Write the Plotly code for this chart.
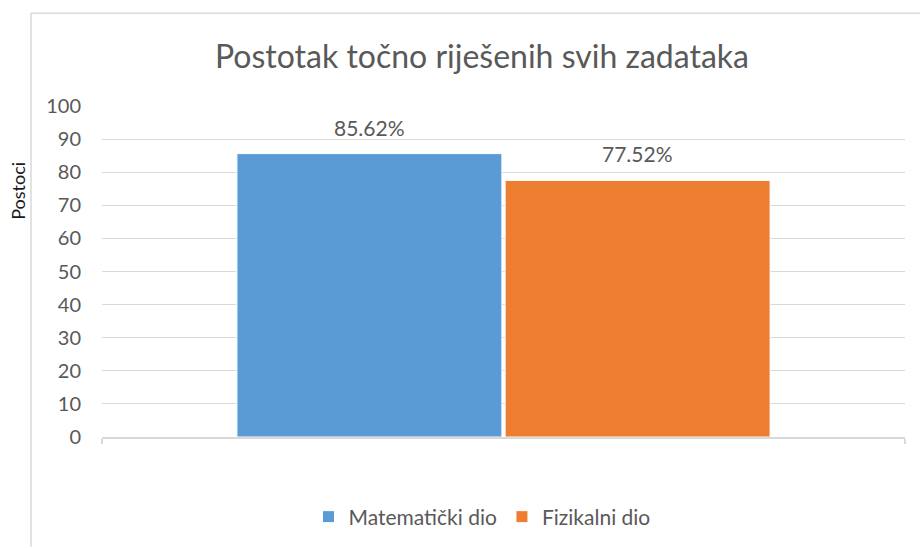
import plotly.graph_objects as go

categories = ["Ukupno"]
series_names = ["Matematički dio", "Fizikalni dio"]
series_values = [[85.62], [77.52]]
series_colors = ["#5B9BD5", "#ED7D31"]
label_texts = ["85.62%", "77.52%"]
y_ticks = [0, 10, 20, 30, 40, 50, 60, 70, 80, 90, 100]

FONT = "Lato"
GRAY = "#595959"
LINE = "#D9D9D9"

W, H = 920, 548
ML, MR, MT, MB = 102, 15, 106, 110

fig = go.Figure()
for name, vals, col in zip(series_names, series_values, series_colors):
    fig.add_trace(go.Bar(
        x=categories, y=vals, name=name,
        marker=dict(color=col, line=dict(color="white", width=1)),
        hoverinfo="y",
    ))

# data labels above each bar
plot_w = W - ML - MR
plot_h = H - MT - MB
bargap, groupgap = 0.332, 0.012
slot = plot_w * (1 - bargap) / len(series_names)
for i, (vals, txt) in enumerate(zip(series_values, label_texts)):
    offset = (i - (len(series_names) - 1) / 2) * slot
    for c, v in zip(categories, vals):
        fig.add_annotation(
            x=c, y=v, xref="x", yref="y", text=txt, showarrow=False,
            xshift=offset, yshift=12, yanchor="bottom",
            font=dict(family=FONT, size=21, color=GRAY),
        )

py = lambda p: (H - MB - p) / plot_h
px = lambda p: (p - ML) / plot_w

# y-axis title placed like Excel
fig.add_annotation(
    x=px(18), y=py(191), xref="paper", yref="paper",
    xanchor="center", yanchor="middle",
    text="Postoci", textangle=-90, showarrow=False,
    font=dict(family=FONT, size=18, color="#1a1a1a"),
)

# chart border (Excel chart area edge)
fig.add_shape(type="line", xref="paper", yref="paper",
              x0=px(31), x1=px(31), y0=py(13), y1=py(H),
              line=dict(color=LINE, width=1.5))
fig.add_shape(type="line", xref="paper", yref="paper",
              x0=px(31), x1=px(W), y0=py(13), y1=py(13),
              line=dict(color=LINE, width=1.5))

fig.update_layout(
    width=W, height=H,
    margin=dict(l=ML, r=MR, t=MT, b=MB),
    paper_bgcolor="white", plot_bgcolor="white",
    barmode="group", bargap=bargap, bargroupgap=groupgap,
    title=dict(text="Postotak točno riješenih svih zadataka",
               x=482 / W, xanchor="center", y=1 - 57 / H, yanchor="middle",
               font=dict(family=FONT, size=32, color=GRAY)),
    font=dict(family=FONT, color=GRAY),
    showlegend=True,
    legend=dict(orientation="h", x=px(482), xanchor="center",
                y=py(517), yanchor="middle",
                font=dict(family=FONT, size=21, color=GRAY),
                itemwidth=30, traceorder="normal"),
    xaxis=dict(showline=True, linecolor=LINE, linewidth=1.5,
               ticks="outside", tickson="boundaries", ticklen=5,
               tickcolor=LINE, tickwidth=1.5, showticklabels=False,
               showgrid=False),
    yaxis=dict(range=[0, 100], tickvals=y_ticks, showgrid=True,
               gridcolor=LINE, gridwidth=1, zeroline=False, showline=False,
               ticklabelstandoff=20,
               tickfont=dict(family=FONT, size=20, color=GRAY)),
)

fig.write_html("out.html", config={"displayModeBar": False},
               post_script="document.body.style.margin='0';")
